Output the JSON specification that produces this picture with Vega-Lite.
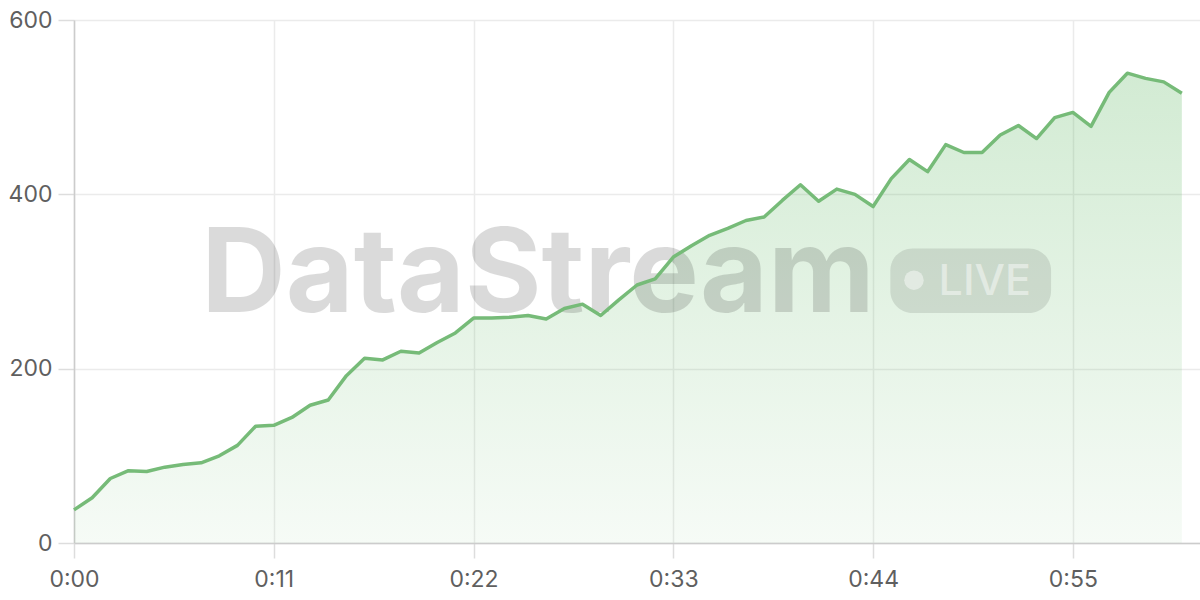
{
  "$schema": "https://vega.github.io/schema/vega-lite/v6.json",
  "width": 1126,
  "height": 523,
  "autosize": {"type": "none"},
  "padding": {"left": 74, "top": 20, "right": 0, "bottom": 57},
  "background": "white",
  "config": {
    "view": {"stroke": null},
    "font": "Inter",
    "axis": {
      "labelFont": "Inter",
      "labelFontSize": 23,
      "labelColor": "#5f5f5f",
      "gridColor": "#ebebeb",
      "gridWidth": 1.5,
      "domainColor": "#cccccc",
      "domainWidth": 1.5,
      "tickColor": "#dddddd",
      "tickWidth": 1.5,
      "labelFlush": false,
      "title": null
    }
  },
  "data": {
    "values": [
      {"t": 0, "v": 38}, {"t": 1, "v": 52}, {"t": 2, "v": 74}, {"t": 3, "v": 83},
      {"t": 4, "v": 82}, {"t": 5, "v": 87}, {"t": 6, "v": 90}, {"t": 7, "v": 92},
      {"t": 8, "v": 100}, {"t": 9, "v": 112}, {"t": 10, "v": 134}, {"t": 11, "v": 135},
      {"t": 12, "v": 144}, {"t": 13, "v": 158}, {"t": 14, "v": 164}, {"t": 15, "v": 192},
      {"t": 16, "v": 212}, {"t": 17, "v": 210}, {"t": 18, "v": 220}, {"t": 19, "v": 218},
      {"t": 20, "v": 230}, {"t": 21, "v": 241}, {"t": 22, "v": 258}, {"t": 23, "v": 258},
      {"t": 24, "v": 259}, {"t": 25, "v": 261}, {"t": 26, "v": 257}, {"t": 27, "v": 269},
      {"t": 28, "v": 274}, {"t": 29, "v": 261}, {"t": 30, "v": 279}, {"t": 31, "v": 296},
      {"t": 32, "v": 303}, {"t": 33, "v": 328}, {"t": 34, "v": 341}, {"t": 35, "v": 353},
      {"t": 36, "v": 361}, {"t": 37, "v": 370}, {"t": 38, "v": 374}, {"t": 39, "v": 393},
      {"t": 40, "v": 411}, {"t": 41, "v": 392}, {"t": 42, "v": 406}, {"t": 43, "v": 400},
      {"t": 44, "v": 386}, {"t": 45, "v": 418}, {"t": 46, "v": 440}, {"t": 47, "v": 426},
      {"t": 48, "v": 457}, {"t": 49, "v": 448}, {"t": 50, "v": 448}, {"t": 51, "v": 468},
      {"t": 52, "v": 479}, {"t": 53, "v": 464}, {"t": 54, "v": 488}, {"t": 55, "v": 494},
      {"t": 56, "v": 478}, {"t": 57, "v": 517}, {"t": 58, "v": 539}, {"t": 59, "v": 533},
      {"t": 60, "v": 529}, {"t": 61, "v": 516}
    ]
  },
  "encoding": {
    "x": {
      "field": "t",
      "type": "quantitative",
      "scale": {"domain": [0, 62], "nice": false, "zero": true},
      "axis": {
        "values": [0, 11, 22, 33, 44, 55],
        "labelExpr": "floor(datum.value / 60) + ':' + (datum.value % 60 < 10 ? '0' : '') + (datum.value % 60)",
        "tickSize": 15,
        "labelPadding": 10
      }
    },
    "y": {
      "field": "v",
      "type": "quantitative",
      "scale": {"domain": [0, 600], "nice": false},
      "axis": {
        "values": [0, 200, 400, 600],
        "tickSize": 16,
        "labelPadding": 6
      }
    }
  },
  "layer": [
    {
      "mark": {
        "type": "area",
        "fill": {
          "gradient": "linear",
          "x1": 0, "x2": 0, "y1": 1, "y2": 0,
          "stops": [
            {"offset": 0, "color": "rgba(76,175,80,0.05)"},
            {"offset": 1, "color": "rgba(76,175,80,0.25)"}
          ]
        }
      }
    },
    {
      "transform": [{"filter": "datum.t == 0"}],
      "mark": {
        "type": "text",
        "text": "DataStream",
        "font": "Inter",
        "fontWeight": "bold",
        "fontSize": 117,
        "align": "center",
        "baseline": "alphabetic",
        "color": "#000000",
        "opacity": 0.14,
        "letterSpacing": -3
      },
      "encoding": {"x": {"datum": 25.55}, "y": {"datum": 265}}
    },
    {
      "transform": [{"filter": "datum.t == 0"}],
      "mark": {"type": "rect", "color": "#000000", "opacity": 0.1, "cornerRadius": 22},
      "encoding": {
        "x": {"datum": 44.95}, "x2": {"datum": 53.8},
        "y": {"datum": 338}, "y2": {"datum": 264}
      }
    },
    {
      "transform": [{"filter": "datum.t == 0"}],
      "mark": {"type": "point", "filled": true, "color": "#ffffff", "opacity": 0.45, "size": 380, "shape": "circle"},
      "encoding": {"x": {"datum": 46.25}, "y": {"datum": 301.5}}
    },
    {
      "transform": [{"filter": "datum.t == 0"}],
      "mark": {
        "type": "text",
        "text": "LIVE",
        "font": "Inter",
        "fontWeight": 500,
        "fontSize": 43,
        "align": "center",
        "baseline": "alphabetic",
        "color": "#ffffff",
        "opacity": 0.45
      },
      "encoding": {"x": {"datum": 50.15}, "y": {"datum": 284.5}}
    },
    {
      "mark": {"type": "line", "color": "#76bb78", "strokeWidth": 3.5, "strokeJoin": "round"}
    }
  ]
}
